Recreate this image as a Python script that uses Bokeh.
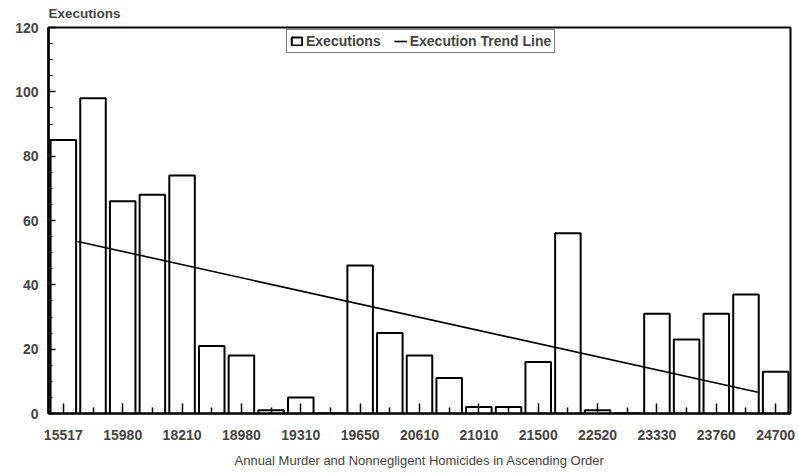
import numpy as np
from bokeh.plotting import figure
from bokeh.models import FixedTicker, Legend, LegendItem, Range1d
from bokeh.embed import file_html
from bokeh.resources import INLINE

# --- data ---
slot_index = list(range(25))
executions = [85, 98, 66, 68, 74, 21, 18, 1, 5, 0, 46, 25, 18, 11, 2, 2, 16, 56, 1, 0, 31, 23, 31, 37, 13]
tick_labels = ["15517", "15980", "18210", "18980", "19310", "19650", "20610",
               "21010", "21500", "22520", "23330", "23760", "24700"]
y_ticks = [0, 20, 40, 60, 80, 100, 120]
y_minor = list(range(0, 121, 5))
x_title = "Annual Murder and Nonnegligent Homicides in Ascending Order"

# linear trend of executions over the ordered slots
slope, intercept = np.polyfit(slot_index, executions, 1)
trend_x = [slot_index[1] - 0.52, slot_index[23] + 0.4]
trend_y = [intercept + slope * x for x in trend_x]

FONT = "Liberation Sans"

p = figure(width=799, height=474,
           x_range=Range1d(-0.5, 24.5), y_range=Range1d(0, 120),
           output_backend="svg", toolbar_location=None,
           min_border_left=48, min_border_right=9,
           min_border_top=26, min_border_bottom=61)

p.title.text = "Executions"
p.title.align = "left"
p.title.vertical_align = "top"
p.title.text_font = FONT
p.title.text_font_size = "13.5px"
p.title.text_font_style = "bold"
p.title.standoff = 10
p.title.offset = 0

bars = p.vbar(x=slot_index, top=executions, width=0.86, bottom=0,
              fill_color="white", line_color="black", line_width=2)
trend = p.line(x=trend_x, y=trend_y, line_color="black", line_width=1.6)

p.xgrid.visible = False
p.ygrid.visible = False
p.outline_line_color = "black"
p.outline_line_width = 2
p.background_fill_color = "white"
p.border_fill_color = "white"

xa = p.xaxis[0]
xa.ticker = FixedTicker(ticks=slot_index[::2], minor_ticks=slot_index[1::2])
xa.major_label_overrides = {i: lab for i, lab in zip(slot_index[::2], tick_labels)}
xa.major_tick_in = 10
xa.major_tick_out = 0
xa.minor_tick_in = 6
xa.minor_tick_out = 0
xa.axis_line_width = 2
xa.major_tick_line_width = 1.5
xa.minor_tick_line_width = 1.5
xa.major_label_text_font = FONT
xa.major_label_text_font_size = "14px"
xa.major_label_text_font_style = "bold"
xa.major_label_standoff = 16
xa.axis_label = x_title
xa.axis_label_text_font = FONT
xa.axis_label_text_font_size = "13px"
xa.axis_label_text_font_style = "normal"
xa.axis_label_standoff = 10

ya = p.yaxis[0]
ya.ticker = FixedTicker(ticks=y_ticks, minor_ticks=y_minor)
ya.major_tick_in = 7
ya.major_tick_out = 0
ya.minor_tick_in = 4
ya.minor_tick_out = 0
ya.axis_line_width = 2.5
ya.major_tick_line_width = 1.5
ya.minor_tick_line_width = 1.2
ya.major_label_text_font = FONT
ya.major_label_text_font_size = "14px"
ya.major_label_text_font_style = "bold"
ya.major_label_standoff = 10

legend = Legend(items=[LegendItem(label="Executions", renderers=[bars]),
                       LegendItem(label="Execution Trend Line", renderers=[trend])],
                orientation="horizontal", location=(238, 360),
                border_line_color="black", border_line_width=1.5,
                background_fill_alpha=1, padding=3, margin=0,
                glyph_width=13, glyph_height=10, label_standoff=3, spacing=13,
                label_text_font=FONT, label_text_font_size="14px",
                label_text_font_style="bold", label_height=14)
p.add_layout(legend)

open("out.html", "w").write(file_html(p, INLINE))
